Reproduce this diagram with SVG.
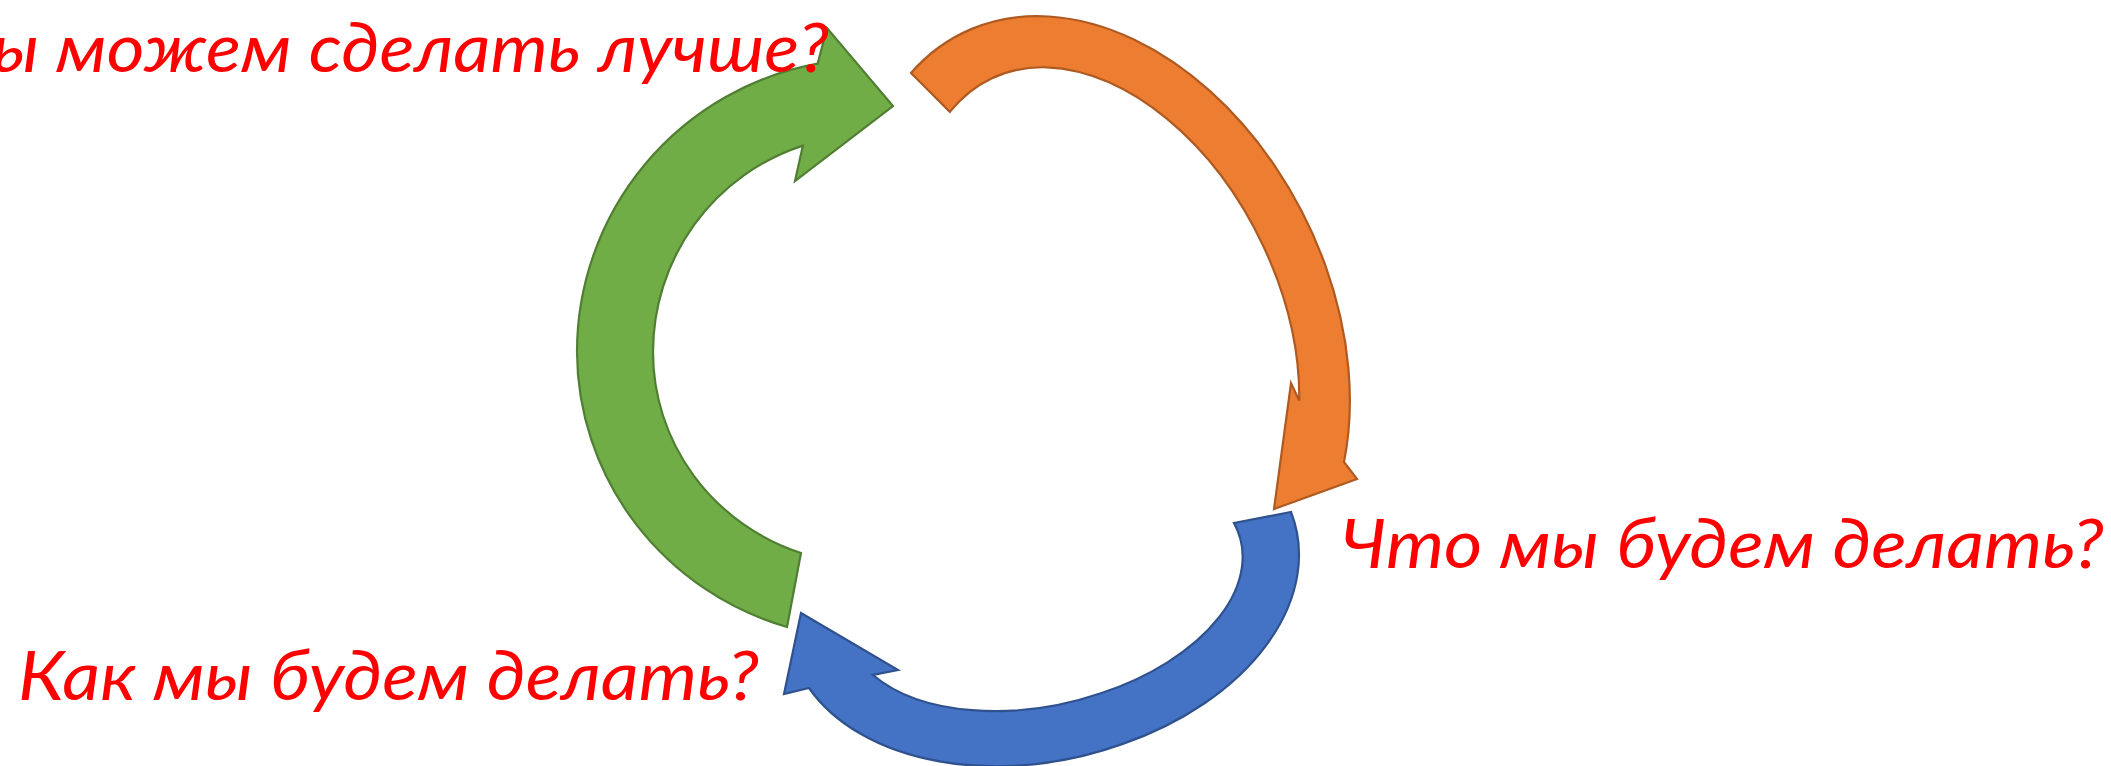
<svg xmlns="http://www.w3.org/2000/svg" width="2111" height="766" viewBox="0 0 2111 766">
<style>
.lbl{font-family:"Lato","Liberation Sans",sans-serif;font-style:italic;font-size:68px;fill:#FF0000;}
.arr{stroke-width:2.2;stroke-linejoin:miter;}
.green{fill:#70AD47;stroke:#507E32;}
.orange{fill:#ED7D31;stroke:#AE5A21;}
.blue{fill:#4472C4;stroke:#2F528F;}
</style>
<rect width="2111" height="766" fill="#FFFFFF"/>
<g id="connectors">
<g id="arrow-green">
<path class="arr green" d="M 817.6,63.7 A 293 293 0 0 0 577,352 A 293 288 0 0 0 787,627 L 801,553 A 217 212 0 0 1 653,352 A 217 217 0 0 1 802.9,145.6 L 795,181 L 893,106 L 827,28 Z"/>
</g>
<g id="arrow-orange">
<path class="arr orange" d="M 911,73 A 319.1 226.1 63.98 0 1 1344,462 L 1357,479 L 1274,509 L 1291,383 L 1299.3,400.8 A 264 172 63.98 0 0 949.8,111.9 Z"/>
</g>
<g id="arrow-blue">
<path class="arr blue" d="M 1291,512 A 257.5 173.2 -13.08 0 1 1122.8,743.9 A 257.5 173.2 -13.08 0 1 809,688 L 784,694 L 801,613 L 898,670 L 873,675 A 201 118 -13.08 0 0 1100.9,693.2 A 201 118 -13.08 0 0 1234,523 Z"/>
</g>
</g>
<g id="label-improve">
<text class="lbl" x="-8" y="72" textLength="837" lengthAdjust="spacingAndGlyphs">ы можем сделать лучше?</text>
</g>
<g id="label-what">
<text class="lbl" x="1341" y="568" textLength="763" lengthAdjust="spacingAndGlyphs">Что мы будем делать?</text>
</g>
<g id="label-how">
<text class="lbl" x="18" y="700" textLength="741" lengthAdjust="spacingAndGlyphs">Как мы будем делать?</text>
</g>
</svg>
